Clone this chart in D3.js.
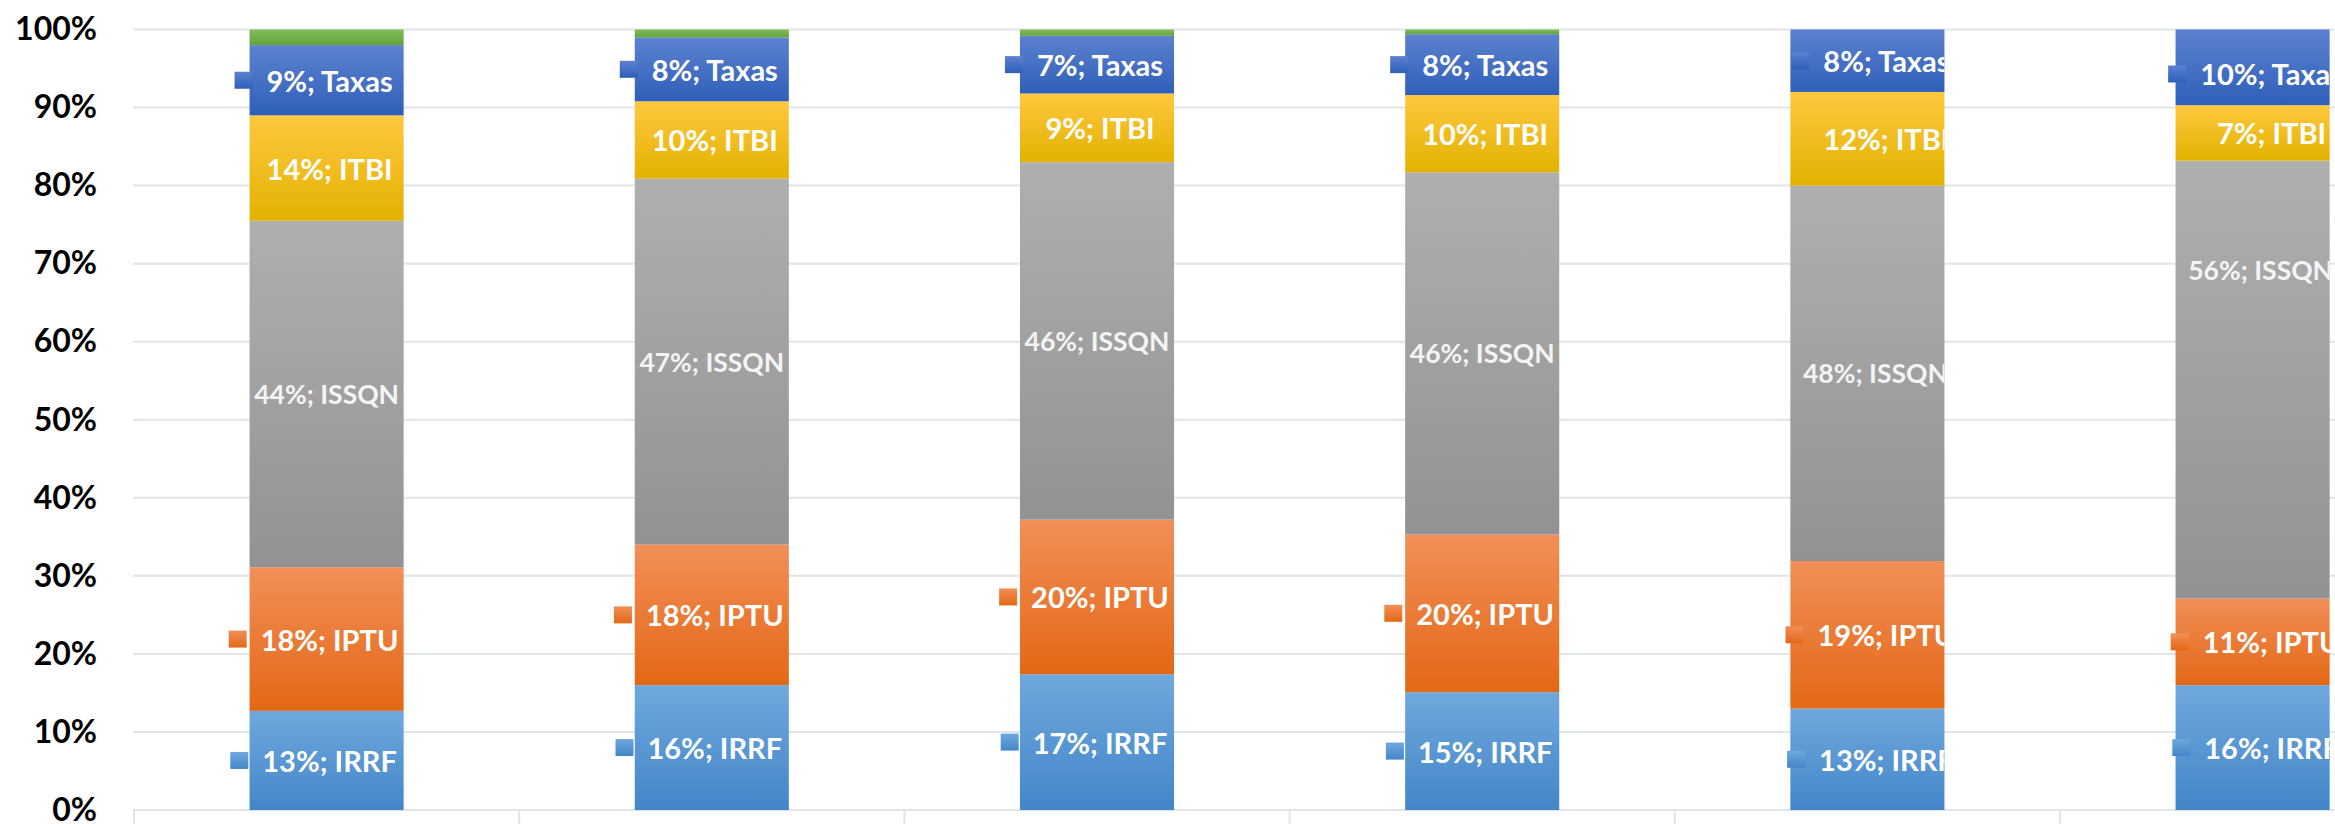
<!DOCTYPE html>
<html>
<head>
<meta charset="utf-8">
<script src="https://cdn.jsdelivr.net/npm/d3@7"></script>
<style>
  body { margin: 0; background: #fff; }
  svg { display: block; font-family: Lato, "Open Sans", sans-serif; }
</style>
</head>
<body>
<svg id="chart" width="2335" height="824"></svg>
<script>
// values in percent of each bar
const categories = ["1", "2", "3", "4", "5", "6"];
const seriesNames = ["IRRF", "IPTU", "ISSQN", "ITBI", "Taxas", "Outros"];
const irrf   = [12.7, 16.0, 17.4, 15.1, 13.0, 16.0];
const iptu   = [18.4, 18.0, 19.8, 20.2, 18.9, 11.1];
const issqn  = [44.4, 46.9, 45.8, 46.4, 48.1, 56.1];
const itbi   = [13.5,  9.9,  8.8,  9.9, 12.0,  7.1];
const taxas  = [ 9.0,  8.2,  7.4,  7.8,  8.0,  9.7];
const outros = [ 2.0,  1.0,  0.8,  0.6,  0.0,  0.0];
const yTicks = [0, 10, 20, 30, 40, 50, 60, 70, 80, 90, 100];

// gradient colours (top, bottom) per series
const colors = {
    IRRF:   ["#6fa8dd", "#4386c8"],
    IPTU:   ["#f28f58", "#e36815"],
    ISSQN:  ["#afafaf", "#929292"],
    ITBI:   ["#ffc83f", "#e2b200"],
    Taxas:  ["#5c82cf", "#2f5fb9"],
    Outros: ["#80bd5a", "#62a23c"]
};
const withKey = {IRRF: true, IPTU: true, Taxas: true};

const svg = d3.select('#chart');
const W = +svg.attr('width');

const rows = categories.map((c, i) => ({
    cat: c, IRRF: irrf[i], IPTU: iptu[i], ISSQN: issqn[i],
    ITBI: itbi[i], Taxas: taxas[i], Outros: outros[i]
}));
const stacked = d3.stack().keys(seriesNames)(rows);

const x = d3.scaleBand().domain(categories).range([134, 134 + 6 * 385.2])
    .paddingInner(0.6).paddingOuter(0.3);
const y = d3.scaleLinear().domain([0, 100]).range([810, 29.5]);

// gradients
const defs = svg.append('defs');
seriesNames.forEach(name => {
    const g = defs.append('linearGradient').attr('id', 'grad-' + name)
        .attr('x1', 0).attr('y1', 0).attr('x2', 0).attr('y2', 1);
    g.append('stop').attr('offset', '0%').attr('stop-color', colors[name][0]);
    g.append('stop').attr('offset', '45%').attr('stop-color', d3.interpolateRgb(colors[name][0], colors[name][1])(0.45));
    g.append('stop').attr('offset', '100%').attr('stop-color', colors[name][1]);
});

// gridlines
svg.append('g')
    .selectAll('line')
    .data(yTicks)
    .enter().append('line')
    .attr('x1', 133).attr('x2', W)
    .attr('y1', d => y(d)).attr('y2', d => y(d))
    .attr('stroke', '#e1e4e9')
    .attr('stroke-width', 2);

// category boundary ticks below baseline
const step = x.step();
svg.append('g')
    .selectAll('line')
    .data(categories)
    .enter().append('line')
    .attr('x1', d => x(d) - step * 0.3).attr('x2', d => x(d) - step * 0.3)
    .attr('y1', 810).attr('y2', 824)
    .attr('stroke', '#e1e4e9')
    .attr('stroke-width', 2);

// y axis labels
const yAxis = d3.axisLeft(y).tickValues(yTicks).tickFormat(d => d + '%').tickSize(0).tickPadding(0);
const ya = svg.append('g').attr('transform', 'translate(97,0)').call(yAxis);
ya.select('.domain').remove();
ya.selectAll('text')
    .attr('font-family', 'Lato, "Open Sans", sans-serif')
    .attr('font-size', 32)
    .attr('font-weight', 'bold')
    .attr('fill', '#000');

// bars
svg.append('g')
    .selectAll('g')
    .data(stacked)
    .enter().append('g')
    .attr('fill', d => 'url(#grad-' + d.key + ')')
    .selectAll('rect')
    .data(d => d)
    .enter().append('rect')
    .attr('x', d => x(d.data.cat))
    .attr('width', x.bandwidth())
    .attr('y', d => y(d[1]))
    .attr('height', d => Math.max(0, y(d[0]) - y(d[1])));

// clip labels to bar right edge (as in picture)
categories.forEach((c, i) => {
    defs.append('clipPath').attr('id', 'clip-' + i)
        .append('rect')
        .attr('x', x(c) - 60).attr('y', 0)
        .attr('width', x.bandwidth() + 60).attr('height', 824);
});

// labels
const labelNudge = [3, 3, 3, 3, 19, 19];
// labels that were moved by hand in the original (percent position)
const labelMoved = {5: {ISSQN: 69.2, Taxas: 94.3}};
const labelLayer = svg.append('g');
categories.forEach((c, i) => {
    const g = labelLayer.append('g').attr('clip-path', 'url(#clip-' + i + ')');
    stacked.forEach(s => {
        if (s.key === 'Outros') return;
        const d = s[i];
        const v = d[1] - d[0];
        const moved = labelMoved[i] && labelMoved[i][s.key];
        const cy = moved ? y(moved) : (y(d[0]) + y(d[1])) / 2;
        const isIss = s.key === 'ISSQN';
        const cx = x(c) + x.bandwidth() / 2 + (isIss ? (i < 4 ? 0 : 8) : labelNudge[i]);
        const t = g.append('text')
            .attr('x', cx).attr('y', cy)
            .attr('text-anchor', 'middle')
            .attr('dominant-baseline', 'central')
            .attr('font-size', isIss ? 26.5 : 29)
            .attr('font-weight', 'bold')
            .attr('fill', isIss ? '#f4f4f4' : '#fff')
            .text(Math.round(v) + '%; ' + s.key);
        if (withKey[s.key]) {
            const w = t.node().getComputedTextLength();
            g.append('rect')
                .attr('x', cx - w / 2 - 14 - 18)
                .attr('y', cy - 8.5)
                .attr('width', 18).attr('height', 17)
                .attr('fill', 'url(#grad-' + s.key + ')');
        }
    });
});
</script>
</body>
</html>
